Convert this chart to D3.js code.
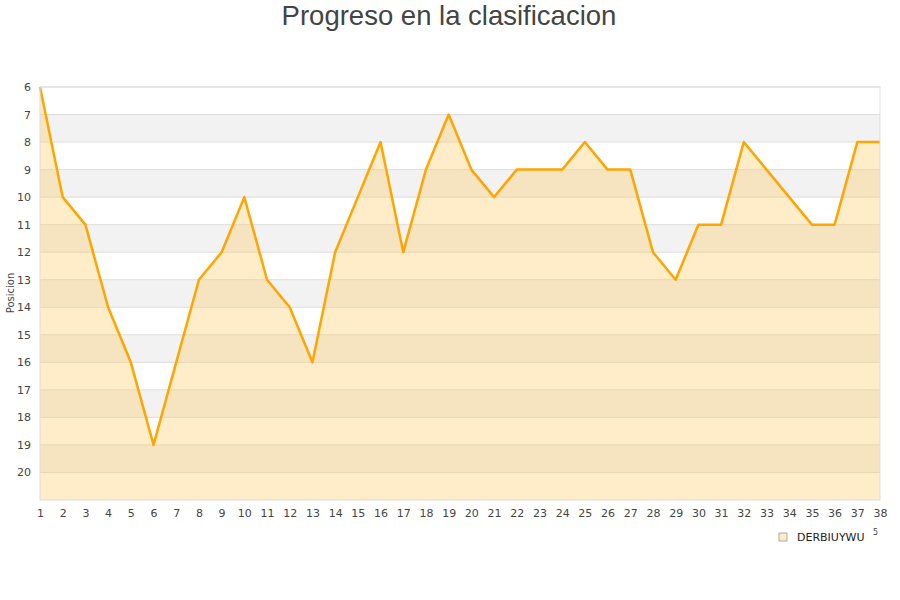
<!DOCTYPE html>
<html>
<head>
<meta charset="utf-8">
<script src="https://cdn.jsdelivr.net/npm/d3@7"></script>
<style>
  body { margin: 0; background: #fff; }
  svg { display: block; }
  .tick text { font-family: "DejaVu Sans", sans-serif; font-size: 11px; fill: #444; }
</style>
</head>
<body>
<svg id="chart"></svg>
<script>
const jornadas = d3.range(1, 39);
const posiciones = [6, 10, 11, 14, 16, 19, 16, 13, 12, 10, 13, 14, 16, 12, 10, 8, 12, 9, 7, 9,
  10, 9, 9, 9, 8, 9, 9, 12, 13, 11, 11, 8, 9, 10, 11, 11, 8, 8];
const yTicks = d3.range(6, 21);
const equipo = "DERBIUYWU";
const titulo = "Progreso en la clasificacion";

const dimensions = {
  width: 900,
  height: 600,
  margin: { top: 87, right: 20, bottom: 100, left: 40 }
};
dimensions.boundedWidth = dimensions.width - dimensions.margin.left - dimensions.margin.right;
dimensions.boundedHeight = dimensions.height - dimensions.margin.top - dimensions.margin.bottom;

const wrapper = d3.select("#chart")
  .attr("width", dimensions.width)
  .attr("height", dimensions.height);

wrapper.append("text")
  .attr("x", 449)
  .attr("y", 25)
  .attr("text-anchor", "middle")
  .style("font-family", "'Liberation Sans', Arial, sans-serif")
  .style("font-size", "27.5px")
  .style("fill", "#444")
  .text(titulo);

const bounds = wrapper.append("g")
  .attr("transform", `translate(${dimensions.margin.left},${dimensions.margin.top})`);

const xScale = d3.scaleLinear()
  .domain([1, 38])
  .range([0, dimensions.boundedWidth]);

const yScale = d3.scaleLinear()
  .domain([6, 21])
  .range([0, dimensions.boundedHeight]);

// alternate bands
bounds.append("g").selectAll("rect")
  .data(yTicks.filter(d => d % 2 === 1))
  .join("rect")
  .attr("x", 0)
  .attr("width", dimensions.boundedWidth)
  .attr("y", d => yScale(d))
  .attr("height", d => yScale(d + 1) - yScale(d))
  .attr("fill", "#f2f2f2");

// grid lines
bounds.append("g").selectAll("line")
  .data(yTicks)
  .join("line")
  .attr("x1", 0)
  .attr("x2", dimensions.boundedWidth)
  .attr("y1", d => yScale(d))
  .attr("y2", d => yScale(d))
  .attr("stroke", "#dddddd");

const area = d3.area()
  .x((d, i) => xScale(jornadas[i]))
  .y0(dimensions.boundedHeight)
  .y1(d => yScale(d));

bounds.append("path")
  .datum(posiciones)
  .attr("d", area)
  .attr("fill", "rgba(255,200,100,0.35)");

const line = d3.line()
  .x((d, i) => xScale(jornadas[i]))
  .y(d => yScale(d));

bounds.append("path")
  .datum(posiciones)
  .attr("d", line)
  .attr("fill", "none")
  .attr("stroke", "#ffa500")
  .attr("stroke-width", 2.5)
  .attr("stroke-linejoin", "round");

// frame
bounds.append("rect")
  .attr("width", dimensions.boundedWidth)
  .attr("height", dimensions.boundedHeight)
  .attr("fill", "none")
  .attr("stroke", "#dddddd");

// axes
const yAxis = bounds.append("g")
  .call(d3.axisLeft(yScale).tickValues(yTicks).tickSize(0).tickPadding(9).tickFormat(d3.format("d")));
yAxis.select(".domain").remove();

const xAxis = bounds.append("g")
  .attr("transform", `translate(0,${dimensions.boundedHeight})`)
  .call(d3.axisBottom(xScale).tickValues(jornadas).tickSize(0).tickPadding(9).tickFormat(d3.format("d")));
xAxis.select(".domain").remove();

wrapper.append("text")
  .attr("transform", "translate(14,293) rotate(-90)")
  .attr("text-anchor", "middle")
  .style("font-family", "'DejaVu Sans', sans-serif")
  .style("font-size", "10px")
  .style("fill", "#444")
  .text("Posicion");

// legend
const legend = wrapper.append("g").attr("transform", "translate(779,533)");
legend.append("rect")
  .attr("width", 8)
  .attr("height", 8)
  .attr("fill", "#feecc8")
  .attr("stroke", "#999")
  .attr("stroke-width", 0.8);
legend.append("text")
  .attr("x", 18)
  .attr("y", 8)
  .style("font-family", "'DejaVu Sans', sans-serif")
  .style("font-size", "11px")
  .style("fill", "#222")
  .text(equipo);
legend.append("text")
  .attr("x", 94)
  .attr("y", 2)
  .style("font-family", "'DejaVu Sans', sans-serif")
  .style("font-size", "8px")
  .style("fill", "#444")
  .text("5");
</script>
</body>
</html>
